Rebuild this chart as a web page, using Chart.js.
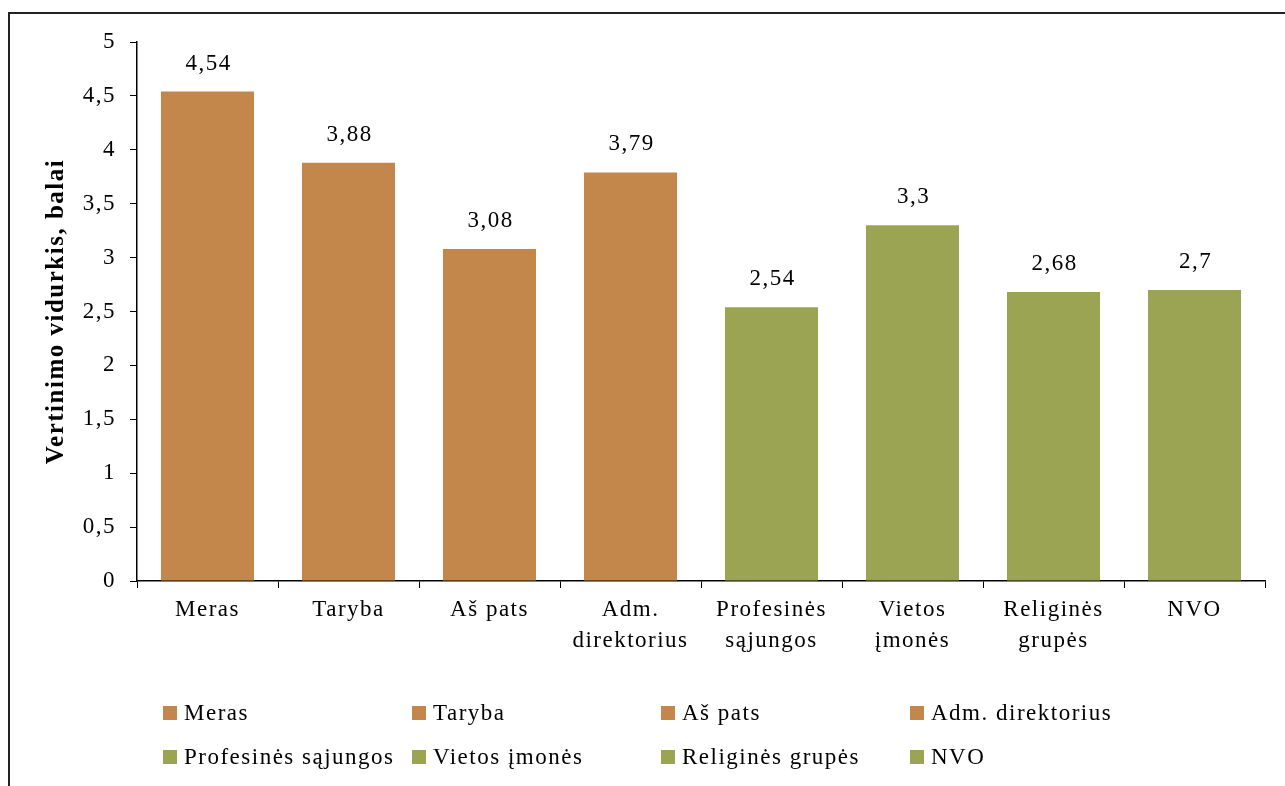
<!DOCTYPE html>
<html>
  <head>
    <script src="https://cdn.jsdelivr.net/npm/chart.js@4.4.0/dist/chart.umd.min.js"></script>
    <style>
      html, body { margin: 0; padding: 0; background: #fff; }
      #wrap { position: relative; width: 1285px; height: 786px; }
    </style>
  </head>
  <body>
    <div id="wrap"><canvas id="canvas" width="1285" height="786"></canvas></div>
    <script>
      const categories = ['Meras', 'Taryba', 'Aš pats', 'Adm. direktorius', 'Profesinės sąjungos', 'Vietos įmonės', 'Religinės grupės', 'NVO'];
      const axisLabels = ['Meras', 'Taryba', 'Aš pats', ['Adm.', 'direktorius'], ['Profesinės', 'sąjungos'], ['Vietos', 'įmonės'], ['Religinės', 'grupės'], 'NVO'];
      const values = [4.54, 3.88, 3.08, 3.79, 2.54, 3.3, 2.68, 2.7];
      const groups = ['a', 'a', 'a', 'a', 'b', 'b', 'b', 'b'];

      const ORANGE = '#c4874b';
      const GREEN = '#9ba452';
      const FONT = "'Liberation Serif', 'Times New Roman', serif";
      const SPACING = '1.5px';
      const colors = groups.map((g) => (g === 'a' ? ORANGE : GREEN));
      const fmt = (v) => String(v).replace('.', ',');

      // the original font is a wide Garamond, so space the letters out a bit
      const spacing = {
        id: 'spacing',
        beforeInit(chart) {
          chart.ctx.letterSpacing = SPACING;
        },
        beforeLayout(chart) {
          chart.ctx.letterSpacing = SPACING;
        },
        beforeDraw(chart) {
          chart.ctx.letterSpacing = SPACING;
        },
      };

      // frame, value labels and the 2x4 legend grid
      const extras = {
        id: 'extras',
        afterDatasetsDraw(chart) {
          const ctx = chart.ctx;
          const meta = chart.getDatasetMeta(0);
          ctx.save();
          ctx.letterSpacing = SPACING;
          ctx.fillStyle = '#000';
          ctx.font = '23px ' + FONT;
          ctx.textAlign = 'center';
          ctx.textBaseline = 'middle';
          meta.data.forEach((bar, i) => {
            ctx.fillText(fmt(values[i]), bar.x + 1, bar.y - 28);
          });

          // legend
          ctx.textAlign = 'left';
          categories.forEach((name, i) => {
            const col = i % 4;
            const row = Math.floor(i / 4);
            const x = 163 + col * 249;
            const y = 713 + row * 44;
            ctx.fillStyle = colors[i];
            ctx.fillRect(x, y - 7, 14, 14);
            ctx.fillStyle = '#000';
            ctx.fillText(name, x + 21, y + 1);
          });

          // outer frame
          ctx.strokeStyle = '#222';
          ctx.lineWidth = 2;
          ctx.strokeRect(9, 13, 1300, 800);
          ctx.restore();
        },
      };

      new Chart(document.getElementById('canvas').getContext('2d'), {
        type: 'bar',
        data: {
          labels: axisLabels,
          datasets: [
            {
              data: values,
              backgroundColor: colors,
              borderWidth: 0,
              categoryPercentage: 0.66,
              barPercentage: 1,
            },
          ],
        },
        options: {
          responsive: false,
          animation: false,
          layout: {
            padding: { top: 42, right: 20, bottom: 110, left: 42 },
          },
          plugins: {
            legend: { display: false },
            tooltip: { enabled: false },
          },
          scales: {
            x: {
              grid: {
                display: true,
                drawOnChartArea: false,
                drawTicks: true,
                tickLength: 7,
                color: '#000',
                offset: true,
              },
              border: { display: true, color: '#000', width: 1.5 },
              ticks: {
                color: '#000',
                font: { family: FONT, size: 23, lineHeight: 1.35 },
                maxRotation: 0,
                autoSkip: false,
                padding: 6,
              },
              afterFit(s) {
                s.height = 95;
              },
            },
            y: {
              min: 0,
              max: 5,
              grid: {
                display: true,
                drawOnChartArea: false,
                drawTicks: true,
                tickLength: 7,
                color: '#000',
              },
              border: { display: true, color: '#000', width: 1.5 },
              ticks: {
                stepSize: 0.5,
                color: '#000',
                padding: 14,
                font: { family: FONT, size: 23 },
                callback: (v) => fmt(v),
              },
              title: {
                display: true,
                text: 'Vertinimo vidurkis, balai',
                color: '#000',
                font: { family: FONT, size: 25, weight: 'bold' },
                padding: { top: 0, bottom: 0 },
              },
              afterFit(s) {
                s.width = 95;
              },
            },
          },
        },
        plugins: [spacing, extras],
      });
    </script>
  </body>
</html>
